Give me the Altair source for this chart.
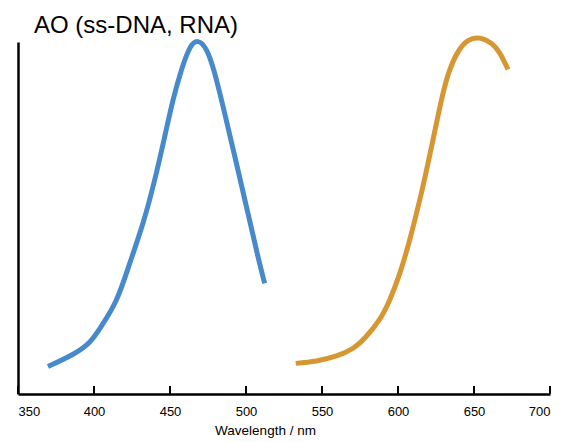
import altair as alt
import pandas as pd

# Data
blue_wl = [369.7, 386.2, 397.2, 404.9, 414.7, 423.5, 432.2, 439.9, 446.5, 452.0, 457.5,
           463.0, 468.4, 474.0, 479.4, 486.0, 493.7, 501.3, 507.9, 512.3]
blue_val = [0.078, 0.113, 0.148, 0.193, 0.267, 0.371, 0.485, 0.608, 0.731, 0.835, 0.920,
            0.982, 1.001, 0.977, 0.911, 0.797, 0.655, 0.513, 0.390, 0.314]

orange_wl = [532.7, 546.3, 559.5, 570.4, 579.2, 588.0, 594.6, 601.1, 607.7, 614.3, 619.7,
             625.3, 629.6, 634.0, 639.5, 646.1, 653.8, 661.5, 667.0, 672.4]
orange_val = [0.087, 0.094, 0.108, 0.130, 0.164, 0.213, 0.268, 0.342, 0.438, 0.551, 0.655,
              0.769, 0.854, 0.920, 0.972, 1.004, 1.011, 0.996, 0.968, 0.922]

x_ticks = [350, 400, 450, 500, 550, 600, 650, 700]
title_text = ["AO (ss-DNA, RNA)"]

W, H = 532, 352
FONT = "Liberation Sans"

df = pd.concat([
    pd.DataFrame({"wl": blue_wl, "val": blue_val, "series": "blue", "order": range(len(blue_wl))}),
    pd.DataFrame({"wl": orange_wl, "val": orange_val, "series": "orange", "order": range(len(orange_wl))}),
])
ticks_df = pd.DataFrame({"t": x_ticks})
title_df = pd.DataFrame({"label": title_text})

xscale = alt.Scale(domain=[350, 700], nice=False)
yscale = alt.Scale(domain=[0, 1], nice=False)

lines = alt.Chart(df).mark_line(strokeWidth=5, interpolate="natural", clip=False).encode(
    x=alt.X("wl:Q", scale=xscale,
            axis=alt.Axis(values=x_ticks, title="Wavelength / nm", tickSize=0, labelPadding=11,
                          labelFont=FONT, labelFontSize=13, labelColor="black",
                          titleFont=FONT, titleFontSize=13.5, titleFontWeight="normal", titleColor="black",
                          titleX=247, titleY=40, titleAlign="center", titleBaseline="alphabetic",
                          domainColor="black", domainWidth=2.5, grid=False)),
    y=alt.Y("val:Q", scale=yscale,
            axis=alt.Axis(title=None, labels=False, ticks=False, grid=False,
                          domainColor="black", domainWidth=2.5)),
    color=alt.Color("series:N", scale=alt.Scale(domain=["blue", "orange"], range=["#468acc", "#d69632"]), legend=None),
    detail="series:N",
    order="order:Q",
)

tick_marks = alt.Chart(ticks_df).mark_rule(color="black", strokeWidth=2).encode(
    x=alt.X("t:Q", scale=xscale),
    y=alt.value(H),
    y2=alt.value(H - 8),
)

title_mark = alt.Chart(title_df).mark_text(
    font=FONT, fontSize=24, color="black", align="left", baseline="alphabetic"
).encode(
    text="label:N",
    x=alt.value(16),
    y=alt.value(-9),
)

chart = alt.layer(tick_marks, lines, title_mark).properties(
    width=W, height=H,
    autosize=alt.AutoSizeParams(type="none"),
    padding={"left": 10, "top": 34, "right": 14, "bottom": 46},
).configure_view(stroke=None)

chart.save("out.html", embed_options={"renderer": "svg", "actions": False})
